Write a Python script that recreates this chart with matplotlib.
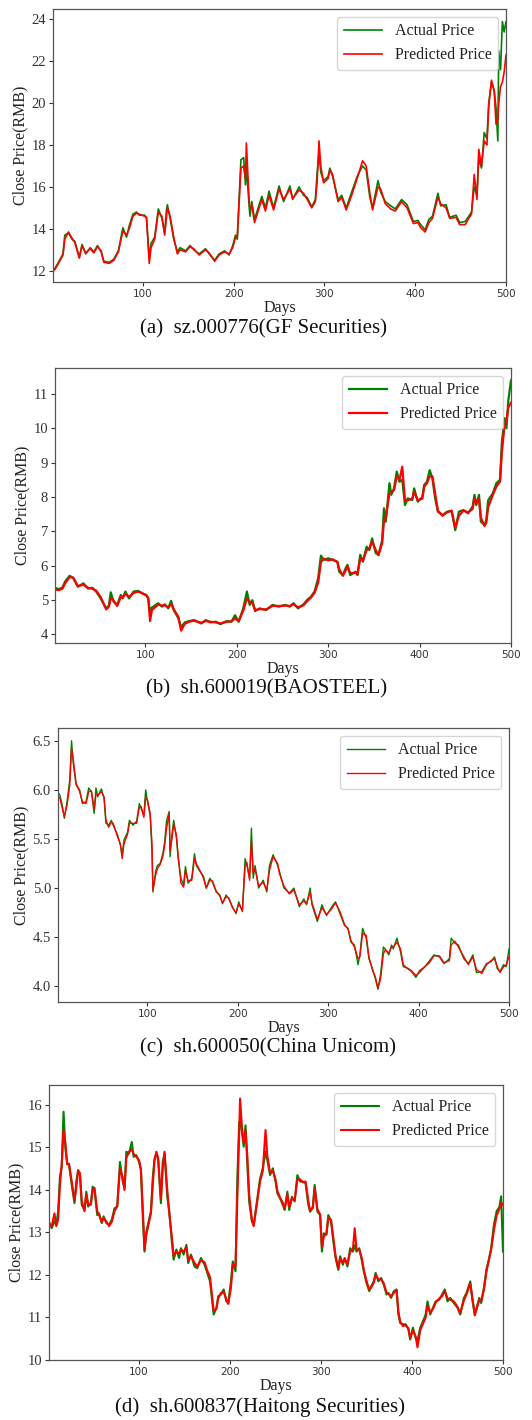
import matplotlib
matplotlib.use("Agg")
import matplotlib.pyplot as plt

# ---- data (day, close price) ----
# (a) sz.000776 GF Securities
days_a = [1, 3, 7, 12, 14, 18, 22, 25, 30, 33,
          37, 42, 46, 50, 54, 57, 63, 68, 73, 78,
          82, 85, 89, 93, 96, 102, 104, 107, 109, 113,
          117, 121, 124, 126, 127, 130, 134, 138, 141, 147,
          152, 156, 162, 169, 173, 179, 184, 190, 195, 199,
          202, 204, 208, 211, 213, 214, 217, 218, 220, 223,
          227, 231, 235, 239, 244, 250, 255, 262, 265, 272,
          277, 281, 286, 290, 292, 294, 296, 299, 304, 306,
          309, 315, 319, 324, 330, 336, 342, 346, 350, 353,
          359, 362, 367, 373, 378, 385, 391, 398, 403, 406,
          411, 415, 419, 425, 428, 434, 438, 445, 449, 455,
          459, 462, 465, 468, 470, 473, 476, 479, 481, 484,
          487, 489, 491, 492, 494, 496, 498, 500]
actual_a = [12.05, 12.1, 12.4, 12.8, 13.7, 13.8, 13.5, 13.4, 12.65, 13.25,
            12.8, 13.1, 12.9, 13.2, 12.9, 12.45, 12.4, 12.55, 12.95, 14.05,
            13.6, 14.15, 14.7, 14.8, 14.65, 14.65, 14.5, 12.6, 13.3, 13.6,
            14.95, 14.5, 13.8, 14.9, 15.15, 14.5, 13.5, 12.9, 13.1, 12.95,
            13.2, 13.0, 12.8, 13.05, 12.8, 12.5, 12.8, 12.95, 12.75, 13.2,
            13.7, 13.5, 17.3, 17.4, 16.1, 17.0, 15.1, 14.6, 15.3, 14.45,
            15.0, 15.55, 15.0, 15.8, 15.0, 16.05, 15.3, 16.05, 15.4, 16.0,
            15.6, 15.5, 15.05, 15.4, 16.7, 17.6, 16.7, 16.3, 16.5, 16.9,
            16.5, 15.4, 15.6, 15.0, 15.75, 16.5, 17.0, 16.8, 15.5, 15.0,
            16.3, 15.75, 15.3, 15.1, 14.95, 15.4, 15.15, 14.35, 14.4, 14.2,
            13.95, 14.45, 14.6, 15.7, 15.1, 15.15, 14.55, 14.65, 14.3, 14.35,
            14.6, 14.8, 16.0, 15.6, 17.35, 16.9, 18.6, 18.3, 20.0, 21.0,
            20.6, 19.8, 18.2, 22.5, 21.6, 23.9, 23.4, 23.9]
pred_a = [12.0, 12.05, 12.35, 12.75, 13.5, 13.85, 13.55, 13.35, 12.6, 13.2,
          12.85, 13.05, 12.85, 13.15, 12.95, 12.4, 12.35, 12.5, 12.9, 13.9,
          13.7, 14.0, 14.6, 14.75, 14.7, 14.6, 14.55, 12.35, 13.1, 13.5,
          14.8, 14.6, 13.7, 14.6, 15.0, 14.6, 13.6, 12.8, 13.0, 12.9,
          13.15, 13.05, 12.75, 13.0, 12.85, 12.45, 12.75, 12.9, 12.8, 13.1,
          13.6, 13.6, 16.9, 17.0, 16.4, 18.1, 15.4, 15.0, 15.1, 14.3,
          14.85, 15.4, 14.85, 15.6, 14.9, 15.9, 15.4, 15.9, 15.45, 15.85,
          15.7, 15.4, 15.0, 15.3, 16.3, 18.2, 17.0, 16.2, 16.4, 16.8,
          16.6, 15.3, 15.5, 14.9, 15.6, 16.4, 17.25, 17.0, 15.7, 14.9,
          16.0, 15.9, 15.2, 14.95, 14.85, 15.3, 15.0, 14.25, 14.3, 14.05,
          13.85, 14.3, 14.5, 15.5, 15.2, 15.0, 14.5, 14.55, 14.2, 14.2,
          14.5, 14.7, 16.6, 15.4, 17.8, 17.0, 18.2, 18.0, 19.9, 21.1,
          20.6, 19.0, 19.2, 20.0, 20.8, 21.0, 21.5, 22.3]

# (b) sh.600019 BAOSTEEL
days_b = [1, 5, 9, 12, 17, 21, 26, 32, 37, 42,
          46, 51, 57, 60, 62, 65, 69, 73, 75, 78,
          82, 87, 92, 96, 101, 103, 105, 107, 114, 118,
          121, 125, 128, 131, 136, 139, 143, 148, 153, 161,
          166, 171, 177, 182, 189, 194, 198, 202, 207, 211,
          214, 217, 220, 225, 232, 239, 246, 253, 258, 262,
          267, 273, 277, 281, 285, 289, 292, 295, 300, 305,
          310, 312, 316, 319, 321, 324, 330, 332, 335, 338,
          342, 345, 348, 352, 355, 359, 361, 363, 367, 369,
          372, 375, 378, 381, 384, 387, 392, 394, 398, 403,
          405, 408, 411, 414, 417, 420, 425, 430, 435, 439,
          443, 448, 453, 458, 460, 462, 465, 467, 471, 473,
          475, 480, 484, 488, 490, 493, 495, 497, 500]
actual_b = [5.35, 5.31, 5.35, 5.53, 5.7, 5.63, 5.38, 5.48, 5.33, 5.35,
            5.24, 5.04, 4.75, 4.83, 5.22, 4.95, 4.85, 5.14, 5.04, 5.24,
            5.04, 5.24, 5.26, 5.19, 5.14, 5.04, 4.65, 4.77, 4.9, 4.8,
            4.87, 4.75, 4.97, 4.7, 4.46, 4.2, 4.34, 4.38, 4.41, 4.31,
            4.41, 4.34, 4.36, 4.29, 4.38, 4.36, 4.55, 4.36, 4.75, 5.24,
            4.85, 4.99, 4.67, 4.75, 4.7, 4.85, 4.8, 4.85, 4.8, 4.9,
            4.75, 4.87, 5.0, 5.09, 5.24, 5.63, 6.29, 6.16, 6.21, 6.16,
            6.11, 5.82, 5.72, 5.92, 6.02, 5.72, 5.82, 5.72, 6.31, 6.11,
            6.55, 6.45, 6.79, 6.36, 6.31, 6.74, 7.67, 7.28, 8.4, 8.06,
            8.25, 8.74, 8.44, 8.5, 7.76, 7.96, 7.91, 8.25, 7.86, 8.0,
            8.35, 8.44, 8.78, 8.54, 7.96, 7.57, 7.47, 7.57, 7.59, 7.03,
            7.57, 7.62, 7.52, 7.72, 8.06, 7.76, 8.06, 7.28, 7.18, 7.33,
            7.9, 8.1, 8.4, 8.5, 9.6, 10.3, 10.0, 10.8, 11.4]
pred_b = [5.3, 5.28, 5.32, 5.48, 5.66, 5.65, 5.4, 5.44, 5.35, 5.32,
          5.27, 5.08, 4.72, 4.8, 5.05, 4.98, 4.82, 5.08, 5.06, 5.18,
          5.08, 5.2, 5.24, 5.2, 5.12, 5.06, 4.38, 4.7, 4.86, 4.83,
          4.84, 4.78, 4.88, 4.72, 4.5, 4.1, 4.3, 4.36, 4.39, 4.33,
          4.38, 4.36, 4.34, 4.31, 4.36, 4.37, 4.45, 4.38, 4.68, 5.04,
          4.95, 4.9, 4.7, 4.73, 4.72, 4.82, 4.82, 4.83, 4.82, 4.87,
          4.78, 4.84, 4.96, 5.06, 5.2, 5.5, 6.1, 6.2, 6.15, 6.18,
          6.1, 5.9, 5.7, 5.85, 5.98, 5.78, 5.78, 5.75, 6.2, 6.15,
          6.45, 6.5, 6.7, 6.45, 6.3, 6.65, 7.3, 7.4, 8.1, 8.15,
          8.2, 8.6, 8.5, 8.88, 7.9, 7.9, 7.95, 8.15, 7.9, 7.95,
          8.3, 8.4, 8.6, 8.6, 8.1, 7.6, 7.45, 7.55, 7.6, 7.1,
          7.45, 7.6, 7.55, 7.65, 7.95, 7.85, 7.95, 7.4, 7.15, 7.25,
          7.7, 8.05, 8.3, 8.45, 9.3, 10.1, 10.2, 10.6, 10.75]

# (c) sh.600050 China Unicom
days_c = [1, 3, 6, 8, 11, 14, 16, 18, 21, 25,
          28, 32, 35, 38, 41, 43, 45, 49, 52, 54,
          57, 60, 62, 67, 70, 72, 74, 78, 80, 84,
          88, 91, 93, 96, 98, 100, 103, 105, 106, 109,
          111, 114, 117, 119, 121, 124, 125, 127, 129, 132,
          134, 137, 140, 142, 145, 149, 152, 154, 158, 162,
          165, 169, 172, 176, 180, 183, 187, 190, 194, 198,
          201, 205, 208, 210, 213, 215, 217, 219, 223, 228,
          232, 235, 239, 244, 246, 251, 257, 262, 268, 273,
          276, 280, 282, 288, 293, 298, 304, 308, 313, 318,
          322, 325, 329, 333, 335, 338, 342, 345, 349, 352,
          355, 358, 361, 363, 367, 370, 372, 376, 380, 383,
          389, 392, 397, 401, 407, 412, 417, 423, 428, 434,
          436, 440, 444, 450, 455, 460, 464, 470, 475, 480,
          484, 487, 490, 494, 497, 500]
actual_c = [5.97, 5.95, 5.83, 5.71, 5.88, 6.1, 6.5, 6.26, 6.05, 6.0,
            5.86, 5.88, 6.02, 5.98, 5.76, 6.02, 5.93, 6.01, 5.91, 5.66,
            5.64, 5.69, 5.64, 5.54, 5.44, 5.34, 5.49, 5.57, 5.69, 5.64,
            5.68, 5.86, 5.81, 5.74, 6.0, 5.88, 5.74, 5.37, 4.96, 5.17,
            5.23, 5.25, 5.35, 5.47, 5.68, 5.78, 5.32, 5.54, 5.69, 5.51,
            5.3, 5.1, 5.03, 5.22, 5.05, 5.1, 5.35, 5.23, 5.17, 5.12,
            5.0, 5.1, 5.06, 4.96, 4.93, 4.84, 4.93, 4.89, 4.81, 4.74,
            4.86, 4.76, 5.3, 5.23, 5.1, 5.61, 5.1, 5.23, 5.0, 5.08,
            4.96, 5.23, 5.34, 5.23, 5.17, 5.0, 4.95, 5.0, 4.81, 4.89,
            4.83, 5.0, 4.83, 4.66, 4.83, 4.72, 4.81, 4.86, 4.74, 4.62,
            4.59, 4.45, 4.42, 4.22, 4.32, 4.59, 4.49, 4.28, 4.18, 4.08,
            3.97, 4.13, 4.4, 4.38, 4.32, 4.42, 4.38, 4.49, 4.35, 4.2,
            4.18, 4.15, 4.09, 4.16, 4.2, 4.26, 4.32, 4.3, 4.23, 4.28,
            4.49, 4.44, 4.42, 4.28, 4.23, 4.32, 4.14, 4.15, 4.23, 4.25,
            4.3, 4.18, 4.15, 4.22, 4.2, 4.38]
pred_c = [5.93, 5.92, 5.8, 5.73, 5.84, 6.05, 6.42, 6.3, 6.07, 5.98,
          5.88, 5.86, 5.98, 5.99, 5.8, 5.95, 5.95, 5.98, 5.93, 5.7,
          5.62, 5.67, 5.66, 5.52, 5.45, 5.3, 5.45, 5.55, 5.66, 5.66,
          5.66, 5.82, 5.83, 5.72, 5.92, 5.9, 5.76, 5.45, 4.98, 5.13,
          5.2, 5.24, 5.32, 5.43, 5.6, 5.76, 5.38, 5.5, 5.65, 5.54,
          5.33, 5.05, 5.01, 5.18, 5.07, 5.08, 5.3, 5.25, 5.18, 5.1,
          5.0, 5.08, 5.07, 4.97, 4.92, 4.85, 4.91, 4.9, 4.8, 4.75,
          4.84, 4.77, 5.22, 5.26, 5.08, 5.48, 5.15, 5.2, 5.02, 5.06,
          4.98, 5.18, 5.32, 5.25, 5.15, 5.02, 4.94, 4.98, 4.83, 4.87,
          4.84, 4.96, 4.85, 4.68, 4.8, 4.73, 4.79, 4.85, 4.76, 4.63,
          4.58, 4.47, 4.4, 4.28, 4.3, 4.54, 4.52, 4.3, 4.16, 4.1,
          3.98, 4.08, 4.33, 4.37, 4.34, 4.4, 4.4, 4.45, 4.38, 4.22,
          4.17, 4.16, 4.11, 4.14, 4.2, 4.24, 4.31, 4.31, 4.24, 4.26,
          4.42, 4.46, 4.4, 4.3, 4.22, 4.3, 4.17, 4.13, 4.22, 4.26,
          4.28, 4.2, 4.14, 4.2, 4.22, 4.3]

# (d) sh.600837 Haitong Securities
days_d = [1, 4, 7, 9, 11, 13, 15, 17, 19, 21,
          23, 26, 29, 31, 33, 35, 37, 40, 42, 44,
          47, 49, 51, 54, 56, 59, 61, 64, 67, 70,
          73, 76, 79, 82, 84, 86, 89, 92, 94, 97,
          100, 102, 104, 106, 108, 111, 113, 115, 117, 119,
          121, 124, 126, 128, 131, 133, 136, 138, 141, 144,
          146, 149, 152, 154, 157, 161, 164, 168, 172, 175,
          178, 180, 182, 185, 187, 190, 193, 196, 198, 201,
          203, 206, 208, 210, 211, 213, 215, 217, 219, 221,
          224, 226, 228, 230, 233, 236, 239, 241, 244, 247,
          250, 252, 255, 258, 260, 263, 265, 268, 271, 274,
          277, 280, 283, 286, 288, 291, 293, 296, 299, 301,
          303, 306, 308, 311, 314, 316, 319, 321, 324, 326,
          329, 332, 335, 337, 339, 342, 345, 347, 350, 353,
          355, 358, 360, 363, 366, 369, 372, 374, 377, 380,
          383, 385, 387, 390, 393, 396, 398, 401, 404, 406,
          409, 412, 415, 417, 420, 423, 426, 430, 433, 436,
          439, 442, 446, 450, 453, 457, 460, 464, 466, 469,
          471, 474, 476, 479, 482, 484, 487, 490, 493, 496,
          498, 500]
actual_d = [13.25, 13.1, 13.26, 13.18, 13.49, 14.31, 14.55, 15.84, 14.98, 14.63,
            14.59, 14.12, 13.69, 14.2, 14.47, 14.35, 13.65, 13.53, 13.96, 13.61,
            13.69, 14.08, 14.0, 13.41, 13.45, 13.22, 13.38, 13.22, 13.18, 13.3,
            13.57, 13.61, 14.66, 14.2, 14.04, 14.9, 14.86, 15.13, 14.78, 14.82,
            14.66, 14.47, 13.41, 12.55, 13.02, 13.3, 13.49, 14.27, 14.74, 14.86,
            14.7, 13.69, 14.66, 14.86, 13.84, 13.53, 12.79, 12.36, 12.6, 12.4,
            12.63, 12.48, 12.71, 12.28, 12.48, 12.2, 12.16, 12.4, 12.24, 12.05,
            11.85, 11.46, 11.07, 11.23, 11.5, 11.54, 11.66, 11.38, 11.34, 11.85,
            12.32, 12.09, 14.27, 15.6, 15.6, 15.37, 15.02, 15.52, 14.59, 13.73,
            13.26, 13.18, 13.49, 13.8, 14.27, 14.51, 14.9, 14.7, 14.35, 14.51,
            14.2, 13.92, 13.8, 13.65, 13.53, 13.96, 13.53, 13.84, 13.73, 14.35,
            14.2, 14.2, 14.16, 13.65, 13.49, 13.61, 14.12, 13.49, 13.41, 12.55,
            12.98, 12.95, 13.41, 13.26, 12.71, 12.4, 12.12, 12.44, 12.24, 12.4,
            12.2, 12.63, 12.55, 12.7, 12.55, 12.63, 12.32, 12.09, 11.81, 11.62,
            11.73, 11.85, 12.05, 11.85, 11.93, 11.77, 11.54, 11.58, 11.46, 11.62,
            11.66, 11.07, 10.87, 10.84, 10.84, 10.72, 10.48, 10.76, 10.52, 10.45,
            10.76, 10.91, 11.07, 11.38, 11.07, 11.23, 11.38, 11.42, 11.54, 11.66,
            11.38, 11.46, 11.34, 11.23, 11.07, 11.46, 11.58, 11.85, 11.46, 11.07,
            11.23, 11.46, 11.34, 11.7, 12.16, 12.32, 12.63, 13.18, 13.5, 13.6,
            13.85, 12.55]
pred_d = [13.2, 13.15, 13.45, 13.15, 13.3, 14.1, 14.6, 15.4, 15.1, 14.6,
          14.62, 14.2, 13.75, 14.05, 14.45, 14.4, 13.75, 13.5, 13.9, 13.68,
          13.65, 14.0, 14.05, 13.5, 13.42, 13.25, 13.33, 13.26, 13.15, 13.25,
          13.5, 13.62, 14.5, 14.3, 14.0, 14.75, 14.9, 14.95, 14.85, 14.78,
          14.7, 14.5, 13.6, 12.6, 12.95, 13.25, 13.45, 14.1, 14.7, 14.9,
          14.75, 13.8, 14.5, 14.9, 14.0, 13.5, 12.9, 12.45, 12.55, 12.5,
          12.6, 12.55, 12.65, 12.35, 12.45, 12.28, 12.2, 12.35, 12.3, 12.1,
          11.95, 11.55, 11.15, 11.2, 11.45, 11.58, 11.6, 11.42, 11.32, 11.7,
          12.25, 12.2, 13.8, 15.3, 16.15, 15.5, 15.1, 15.4, 14.8, 13.9,
          13.3, 13.15, 13.45, 13.75, 14.2, 14.45, 15.41, 14.8, 14.4, 14.45,
          14.25, 13.98, 13.82, 13.7, 13.55, 13.9, 13.6, 13.8, 13.75, 14.25,
          14.25, 14.18, 14.2, 13.75, 13.5, 13.58, 14.05, 13.55, 13.42, 12.65,
          12.9, 12.98, 13.35, 13.3, 12.8, 12.45, 12.15, 12.4, 12.28, 12.38,
          12.25, 12.55, 12.6, 13.1, 12.6, 12.6, 12.38, 12.12, 11.86, 11.65,
          11.7, 11.82, 12.0, 11.9, 11.9, 11.8, 11.58, 11.56, 11.5, 11.58,
          11.65, 11.15, 10.9, 10.8, 10.82, 10.75, 10.52, 10.7, 10.55, 10.3,
          10.7, 10.85, 11.0, 11.28, 11.12, 11.2, 11.35, 11.45, 11.5, 11.62,
          11.45, 11.42, 11.38, 11.25, 11.1, 11.4, 11.55, 11.8, 11.52, 11.05,
          11.2, 11.42, 11.38, 11.65, 12.1, 12.3, 12.6, 13.05, 13.4, 13.55,
          13.7, 13.65]

captions = ["(a)  sz.000776(GF Securities)",
            "(b)  sh.600019(BAOSTEEL)",
            "(c)  sh.600050(China Unicom)",
            "(d)  sh.600837(Haitong Securities)"]

W, H = 532, 1420
SERIF = "Liberation Serif"


def draw_panel(fig, box, days, actual, pred, ylim, yticks, caption, lw, cap_y):
    left, top, right, bottom = box
    ax = fig.add_axes([left / W, 1 - bottom / H, (right - left) / W, (bottom - top) / H])
    ax.plot(days, actual, color="green", lw=lw, label="Actual Price")
    ax.plot(days, pred, color="red", lw=lw, label="Predicted Price")
    ax.set_xlim(1, 500)
    ax.set_ylim(*ylim)
    ax.set_xticks([100, 200, 300, 400, 500])
    ax.set_yticks(yticks)
    ax.tick_params(axis="x", labelsize=7.5, length=3, width=0.8, pad=2, colors="#333333")
    ax.tick_params(axis="y", length=3, width=0.8, pad=2, colors="#333333")
    for lab in ax.get_yticklabels():
        lab.set_fontfamily(SERIF)
        lab.set_fontsize(10.5)
    for lab in ax.get_xticklabels():
        lab.set_fontfamily("DejaVu Sans")
    for s in ax.spines.values():
        s.set_color("#555555")
        s.set_linewidth(0.9)
    ax.set_xlabel("Days", fontfamily=SERIF, fontsize=11.5, labelpad=1, color="#222222")
    ax.set_ylabel("Close Price(RMB)", fontfamily=SERIF, fontsize=11.5, labelpad=2, color="#222222")
    leg = ax.legend(loc="upper right", prop={"family": SERIF, "size": 11.5},
                    handlelength=2.4, handletextpad=0.8, borderaxespad=0.5)
    for t in leg.get_texts():
        t.set_color("#222222")
    fig.text((left + right) / 2 / W - 0.03, 1 - cap_y / H, caption, ha="center", va="center",
             fontfamily=SERIF, fontsize=15, color="#111111")
    return ax


fig = plt.figure(figsize=(W / 100, H / 100), dpi=100)

draw_panel(fig, (53, 9, 506, 282), days_a, actual_a, pred_a, (11.46, 24.5),
           [12, 14, 16, 18, 20, 22, 24], captions[0], 1.2, 329)
draw_panel(fig, (55, 368, 511, 643), days_b, actual_b, pred_b, (3.74, 11.76),
           [4, 5, 6, 7, 8, 9, 10, 11], captions[1], 1.6, 689)
draw_panel(fig, (58, 728, 509, 1002), days_c, actual_c, pred_c, (3.84, 6.63),
           [4.0, 4.5, 5.0, 5.5, 6.0, 6.5], captions[2], 1.0, 1048)
draw_panel(fig, (49, 1085, 503, 1360), days_d, actual_d, pred_d, (10.0, 16.47),
           [10, 11, 12, 13, 14, 15, 16], captions[3], 1.5, 1407)

fig.savefig("out.png", dpi=100)
